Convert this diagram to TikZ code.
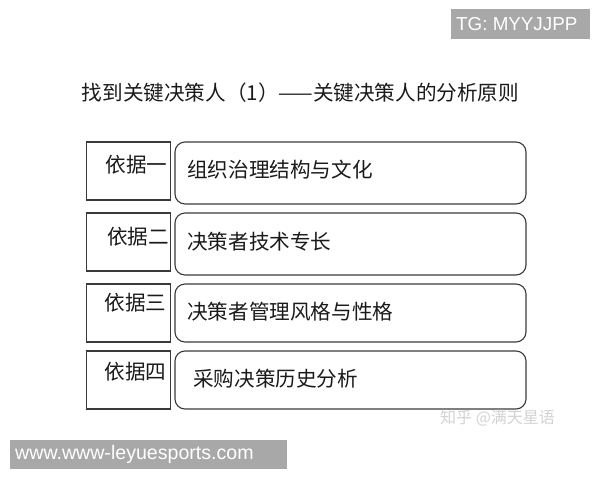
\documentclass[tikz,border=0pt]{standalone}
\usepackage{fontspec}
\newfontfamily\cjk{Noto Sans CJK SC}
\newfontfamily\lat{Liberation Sans}
\definecolor{wmgray}{HTML}{A8A8A8}
\definecolor{linegray}{HTML}{3A3A3A}
\definecolor{txt}{HTML}{1A1A1A}
\definecolor{faint}{HTML}{D2D2D2}
\tikzset{
  cjktext/.style={inner sep=0pt, text height=0.88em, text depth=0.12em, text=txt, yshift=-4pt,
    font=\cjk\fontsize{20.6pt}{24pt}\selectfont},
  labelbox/.style={draw=linegray, line width=1.1pt},
  itembox/.style={draw=linegray, line width=1.1pt, rounded corners=10pt},
  banner/.style={fill=wmgray, draw=none},
  bannertext/.style={inner sep=0pt, text=white, font=\lat\fontsize{18.8pt}{22pt}\selectfont},
}
\begin{document}
\begin{tikzpicture}[x=1pt,y=-1pt]
\useasboundingbox (0,0) rectangle (600,480);
% top-right banner
\path[banner] (451,9) rectangle (590,39);
\node[bannertext, anchor=west] (tg) at (456,24.5) {TG: MYYJJPP};
% title
\node[cjktext] (title) at (300.5,93) {找到关键决策人（1）——关键决策人的分析原则};
% rows
\draw[labelbox] (86.5,142) rectangle (170.5,200);
\draw[itembox] (175,142) rectangle (526,204);
\node[cjktext, anchor=east] (l1) at (167.5,165) {依据一};
\node[cjktext, anchor=west] (t1) at (187,170) {组织治理结构与文化};
\draw[labelbox] (86.5,213) rectangle (170.5,271);
\draw[itembox] (175,213) rectangle (526,275);
\node[cjktext, anchor=east] (l2) at (169,237) {依据二};
\node[cjktext, anchor=west] (t2) at (187,242) {决策者技术专长};
\draw[labelbox] (86.5,284) rectangle (170.5,342);
\draw[itembox] (175,284) rectangle (526,342);
\node[cjktext, anchor=east] (l3) at (166.5,303) {依据三};
\node[cjktext, anchor=west] (t3) at (187,312) {决策者管理风格与性格};
\draw[labelbox] (86.5,351) rectangle (170.5,409);
\draw[itembox] (175,351) rectangle (526,409);
\node[cjktext, anchor=east] (l4) at (166.5,372) {依据四};
\node[cjktext, anchor=west] (t4) at (193,379) {采购决策历史分析};
% faint watermark
\node[inner sep=0pt, anchor=west, text=faint, yshift=-3pt, font=\cjk\fontsize{16pt}{18pt}\selectfont] (zh) at (440,415) {知乎 @满天星语};
% bottom-left banner
\path[banner] (10,440) rectangle (287,469);
\node[bannertext, anchor=west, font=\lat\fontsize{19.6pt}{22pt}\selectfont] (www) at (15,454.5) {www.www-leyuesports.com};
\end{tikzpicture}
\end{document}
